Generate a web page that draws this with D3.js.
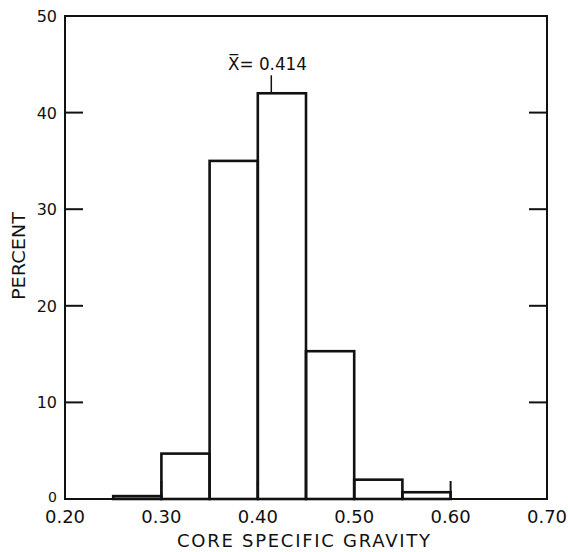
<!DOCTYPE html>
<html><head><meta charset="utf-8">
<script src="https://cdn.jsdelivr.net/npm/d3@7"></script>
<style>body{margin:0;background:#fff}text{font-family:"DejaVu Sans",sans-serif;fill:#111}</style>
</head><body>
<script>
const binStarts = [0.25, 0.30, 0.35, 0.40, 0.45, 0.50, 0.55];
const binWidth = 0.05;
const percents = [0.3, 4.7, 35, 42, 15.3, 2.0, 0.7];
const xTicks = [0.20, 0.30, 0.40, 0.50, 0.60, 0.70];
const yTicks = [0, 10, 20, 30, 40, 50];
const meanValue = 0.414;
const meanLabel = "X\u0305= 0.414";

const W = 568, H = 552;
const svg = d3.select("body").append("svg").attr("width", W).attr("height", H);
const x = d3.scaleLinear().domain([0.2, 0.7]).range([65, 547]);
const y = d3.scaleLinear().domain([0, 50]).range([499, 16]);
const ink = "#111";

// frame
svg.append("rect").attr("x", x(0.2)).attr("y", y(50)).attr("width", x(0.7)-x(0.2)).attr("height", y(0)-y(50))
  .attr("fill", "none").attr("stroke", ink).attr("stroke-width", 2);

// ticks inward
const tl = 18;
svg.selectAll(".yl").data(yTicks.slice(1, -1)).join("line")
  .attr("x1", x(0.2)).attr("x2", x(0.2)+tl).attr("y1", d=>y(d)).attr("y2", d=>y(d))
  .attr("stroke", ink).attr("stroke-width", 2);
svg.selectAll(".yr").data(yTicks.slice(1, -1)).join("line")
  .attr("x1", x(0.7)).attr("x2", x(0.7)-tl).attr("y1", d=>y(d)).attr("y2", d=>y(d))
  .attr("stroke", ink).attr("stroke-width", 2);
svg.selectAll(".xb").data(xTicks.slice(1, -1)).join("line")
  .attr("x1", d=>x(d)).attr("x2", d=>x(d)).attr("y1", y(0)).attr("y2", y(0)-tl)
  .attr("stroke", ink).attr("stroke-width", 2);

// bars
svg.selectAll(".bar").data(binStarts).join("rect")
  .attr("x", d=>x(d)).attr("width", d=>x(d+binWidth)-x(d))
  .attr("y", (d,i)=>y(percents[i])).attr("height", (d,i)=>y(0)-y(percents[i]))
  .attr("fill", "none").attr("stroke", ink).attr("stroke-width", 2.6);

// mean marker
const mi = binStarts.findIndex(b => meanValue >= b && meanValue < b+binWidth);
svg.append("line").attr("x1", x(meanValue)).attr("x2", x(meanValue))
  .attr("y1", y(percents[mi])).attr("y2", y(percents[mi])-18)
  .attr("stroke", ink).attr("stroke-width", 1.5);
svg.append("text").attr("x", 228).attr("y", 70)
  .attr("font-size", 17).attr("textLength", 79).attr("lengthAdjust", "spacingAndGlyphs").text(meanLabel);

// tick labels
svg.selectAll(".xt").data(xTicks).join("text")
  .attr("x", d=>x(d)).attr("y", 523).attr("text-anchor", "middle").attr("font-size", 18)
  .text(d=>d.toFixed(2));
svg.selectAll(".yt").data(yTicks).join("text")
  .attr("x", 57).attr("y", d=>y(d)+ (d===0 ? 3 : 6)).attr("text-anchor", "end").attr("font-size", d=> d===0 ? 14 : 16)
  .text(d=>d);

// axis titles
svg.append("text").attr("x", 177).attr("y", 547)
  .attr("font-size", 18).attr("textLength", 253).attr("lengthAdjust", "spacing").text("CORE SPECIFIC GRAVITY");
svg.append("text").attr("transform", "translate(25,300) rotate(-90)")
  .attr("font-size", 18).attr("textLength", 88).attr("lengthAdjust", "spacingAndGlyphs").text("PERCENT");
</script>
</body></html>
